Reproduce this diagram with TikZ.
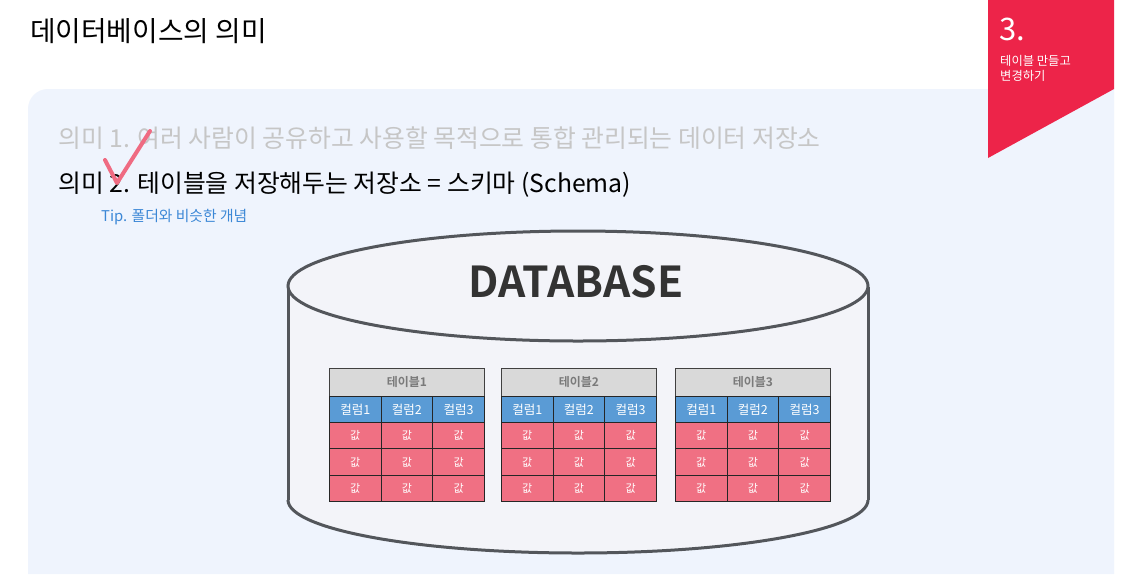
\documentclass[tikz,border=0pt]{standalone}
\usepackage{fontspec}
\setmainfont{Noto Sans CJK KR}[BoldFont={Noto Sans CJK KR Bold}]
\definecolor{bannerred}{HTML}{ED2449}
\definecolor{panel}{HTML}{EFF4FD}
\definecolor{cylfill}{HTML}{F3F4F9}
\definecolor{cylline}{HTML}{53565B}
\definecolor{fadetext}{HTML}{C6C6C6}
\definecolor{tipblue}{HTML}{3B87D6}
\definecolor{checkpink}{HTML}{EF6B82}
\definecolor{hdrgray}{HTML}{D9D9D9}
\definecolor{hdrtext}{HTML}{7A7A7A}
\definecolor{colblue}{HTML}{5A9BD5}
\definecolor{cellpink}{HTML}{F07083}
\begin{document}
\begin{tikzpicture}[x=1pt,y=-1pt,
  txt/.style={anchor=base west,inner sep=0pt},
  hdrcell/.style={draw=black!75,line width=0.9pt,fill=hdrgray,text=hdrtext,minimum width=155pt,minimum height=28pt,inner sep=0pt,font=\fontsize{12}{13}\selectfont\bfseries},
  colcell/.style={draw=black!85,line width=0.9pt,fill=colblue,text=white,minimum width=51.67pt,minimum height=26pt,inner sep=0pt,font=\fontsize{12.5}{13}\selectfont},
  valcell/.style={draw=black!85,line width=0.9pt,fill=cellpink,text=white,minimum width=51.67pt,minimum height=26.3pt,inner sep=0pt,font=\fontsize{11}{12}\selectfont}
]
\useasboundingbox (0,0) rectangle (1139,574);
\fill[white] (0,0) rectangle (1139,574);
% panel
\fill[panel] (28,574) -- (28,109) arc[start angle=180,end angle=270,radius=20] -- (1114,89) -- (1114,574) -- cycle;
% banner
\fill[bannerred] (988,0) -- (1114,0) -- (1114,89) -- (988,158) -- cycle;
\node[txt,text=white,font=\fontsize{31}{32}\selectfont] (num) at (999,40) {3.};
\node[txt,text=white,font=\fontsize{12.3}{13}\selectfont] (bt1) at (1000,65) {테이블 만들고};
\node[txt,text=white,font=\fontsize{12.3}{13}\selectfont] (bt2) at (1000,80) {변경하기};
% title
\node[txt,font=\fontsize{27.8}{30}\selectfont] (title) at (30,41) {데이터베이스의 의미};
% lines
\node[txt,text=fadetext,font=\fontsize{24.8}{26}\selectfont] (m1) at (58,147) {의미 1. 여러 사람이 공유하고 사용할 목적으로 통합 관리되는 데이터 저장소};
\node[txt,font=\fontsize{24.8}{26}\selectfont] (m2) at (58,192) {의미 2. 테이블을 저장해두는 저장소 = 스키마 (Schema)};
\node[txt,text=tipblue,font=\fontsize{14.8}{16}\selectfont] (tip) at (101,221) {Tip. 폴더와 비슷한 개념};
% check mark
\coordinate (c1) at (105,160);
\coordinate (c2) at (117,183);
\coordinate (c3) at (150,131);
\draw[checkpink,line width=4pt,line cap=round,line join=round] (c1) -- (c2) -- (c3);
% cylinder
\fill[cylfill] (578,500) ellipse[x radius=290,y radius=53];
\fill[cylfill] (288,287) rectangle (868,500);
\begin{scope}
\clip (0,500) rectangle (1139,574);
\draw[cylline,line width=3pt] (578,500) ellipse[x radius=290,y radius=53];
\end{scope}
\draw[cylline,line width=3pt] (288,287) -- (288,500);
\draw[cylline,line width=3pt] (868,287) -- (868,500);
\draw[cylline,line width=3pt,fill=cylfill] (578,286) ellipse[x radius=290,y radius=55];
\node[font=\fontsize{42.6}{46}\selectfont\bfseries,text=black!80,inner sep=0pt,anchor=base] (db) at (576,297) {DATABASE};
% tables
\foreach \t/\x in {1/329,2/501,3/675}{
  \node[hdrcell,anchor=north west] (h\t) at (\x,368) {테이블\t};
  \foreach \c in {1,2,3}{
    \node[colcell,anchor=north west] (t\t c\c) at ({\x+(\c-1)*51.67},396) {컬럼\c};
    \foreach \r in {1,2,3}{
      \node[valcell,anchor=north west] (t\t r\r c\c) at ({\x+(\c-1)*51.67},{422+(\r-1)*26.3}) {값};
    }
  }
}
\end{tikzpicture}
\end{document}
